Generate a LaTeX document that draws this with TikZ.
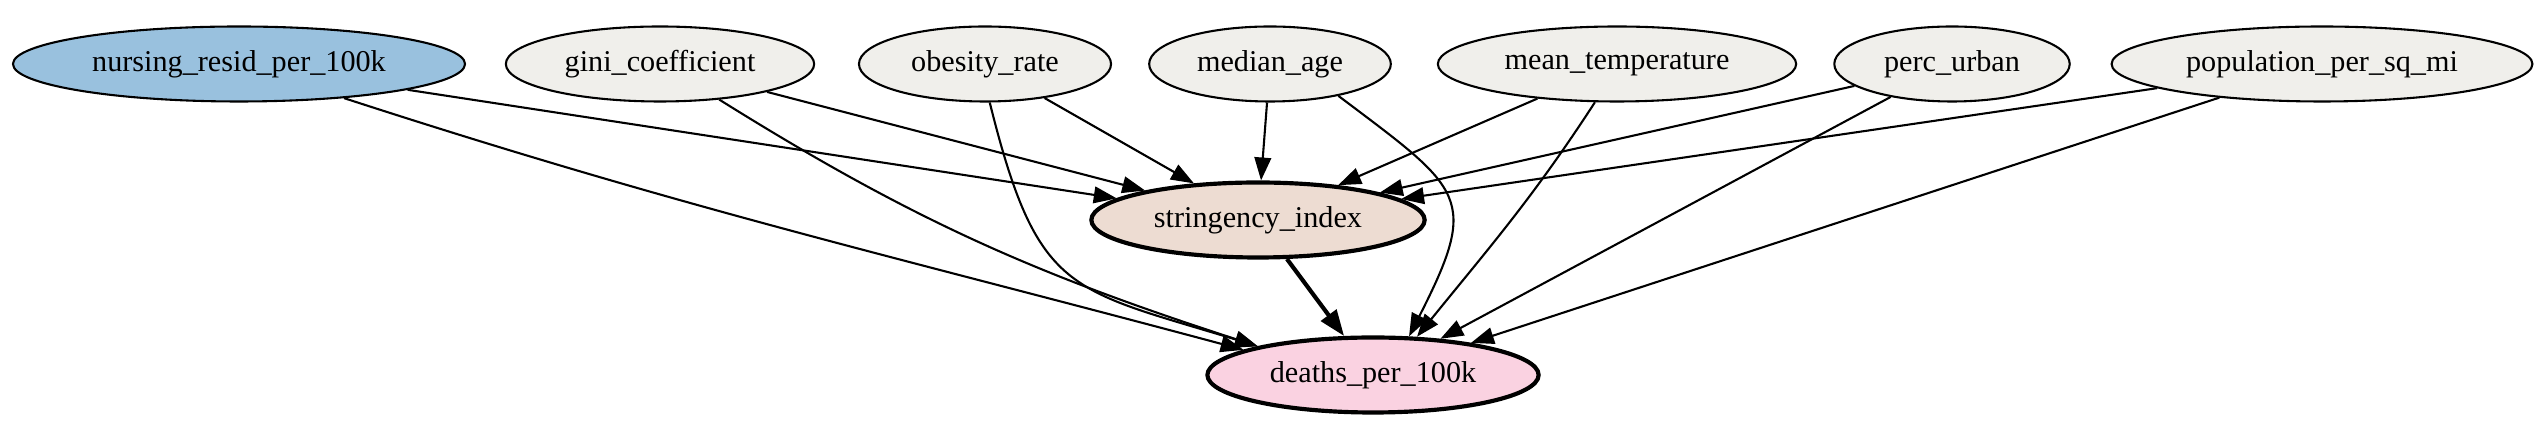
\documentclass[tikz,border=0pt]{standalone}
\usepackage{fontspec}
\setmainfont{Liberation Serif}
\usepackage{tikz}
\usetikzlibrary{arrows.meta, positioning, shapes.geometric}
\definecolor{covfill}{HTML}{F0EFEB}
\definecolor{expofill}{HTML}{99C1DE}
\definecolor{treatfill}{HTML}{EDDCD2}
\definecolor{outcfill}{HTML}{FAD2E1}
\tikzset{%
	var/.style={draw, ellipse, minimum height=36pt, inner sep=0pt, line width=1pt,%
		fill=covfill, font=\fontsize{14.5}{17}\selectfont},
	expo/.style={var, fill=expofill},
	treat/.style={var, line width=2pt, fill=treatfill},
	outc/.style={var, line width=2pt, fill=outcfill},
	link/.style={line width=1pt, -{Triangle[length=11pt, width=8pt]}},
	mainlink/.style={line width=2pt, -{Triangle[length=12.5pt, width=9pt]}}
}
\begin{document}
\begin{tikzpicture}[x=0.48pt, y=0.48pt]
	\useasboundingbox (0,0) rectangle (2547,427);
	\node[expo, minimum width=217pt] (nurs) at (239,363) {nursing\_resid\_per\_100k};
	\node[var, minimum width=148pt] (gini) at (660,363) {gini\_coefficient};
	\node[var, minimum width=121pt] (obes) at (985,363) {obesity\_rate};
	\node[var, minimum width=116pt] (age) at (1270,363) {median\_age};
	\node[var, minimum width=172pt] (temp) at (1617,363) {mean\_temperature};
	\node[var, minimum width=113pt] (urban) at (1952,363) {perc\_urban};
	\node[var, minimum width=202pt] (dens) at (2322,363) {population\_per\_sq\_mi};
	\node[treat, minimum width=160pt] (strg) at (1258,207) {stringency\_index};
	\node[outc, minimum width=159pt] (death) at (1373,52) {deaths\_per\_100k};
	\foreach \v in {nurs, gini, obes, age, temp, urban, dens}
		\draw [link] (\v) -- (strg);
	\draw [link] (nurs.-18) to[out=-18, in=165] (death.169);
	\draw [link] (gini.-31) to[out=-32, in=162] (death.166);
	\draw [link] (obes.-83) to[out=-76, in=163, looseness=1.4] (death.166);
	\draw [link] (age.-25) to[out=-37, in=63, looseness=1.6] (death.47);
	\draw [link] (temp.-120) to[out=-123, in=51] (death.41);
	\draw [link] (urban) -- (death);
	\draw [link] (dens) -- (death);
	\draw [mainlink] (strg) -- (death);
\end{tikzpicture}
\end{document}
